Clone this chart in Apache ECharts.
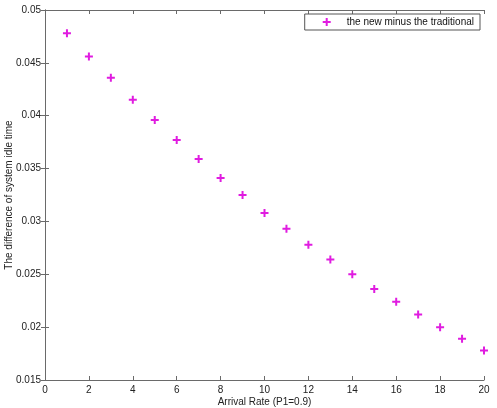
<!DOCTYPE html>
<html><head><meta charset="utf-8">
<script src="https://cdn.jsdelivr.net/npm/echarts@6/dist/echarts.min.js"></script>
<style>html,body{margin:0;padding:0;background:#fff}#c{width:497px;height:408px}</style>
</head><body><div id="c"></div>
<script>
const arrivalRates = [1,2,3,4,5,6,7,8,9,10,11,12,13,14,15,16,17,18,19,20];
const idleDiff = [0.0478,0.0456,0.0436,0.0415,0.0396,0.0377,0.0359,0.0341,0.0325,0.0308,0.0293,0.0278,0.0264,0.0250,0.0236,0.0224,0.0212,0.0200,0.0189,0.0178];
const seriesName = 'the new minus the traditional';
const xTitle = 'Arrival Rate (P1=0.9)';
const yTitle = 'The difference of system idle time';

const plus = 'path://M3,0H5V3H8V5H5V8H3V5H0V3H3Z';
const axisCol = '#6a6a6a';
const font = 'Liberation Sans, Arial, sans-serif';
const chart = echarts.init(document.getElementById('c'));
const common = {
  axisLine:{show:true,lineStyle:{color:axisCol,width:1}},
  axisTick:{show:true,inside:true,length:4,lineStyle:{color:axisCol}},
  splitLine:{show:false}
};
chart.setOption({
  animation:false,
  backgroundColor:'#fff',
  grid:{left:45,right:13,top:10,bottom:28,containLabel:false,outerBoundsMode:'none'},
  legend:{
    top:14,right:17,
    data:[{name:seriesName,icon:plus}],
    itemWidth:8,itemHeight:8,
    borderColor:'#555',borderWidth:1,borderRadius:0,
    padding:[3,6,3,18],
    textStyle:{fontFamily:font,fontSize:10,color:'#111',padding:[0,0,0,11]}
  },
  xAxis:[
    Object.assign({type:'value',min:0,max:20,interval:2,position:'bottom',
      name:xTitle,nameLocation:'middle',nameGap:17,nameMoveOverlap:false,
      nameTextStyle:{fontFamily:font,fontSize:10,color:'#222'},
      axisLabel:{fontFamily:font,fontSize:10,color:'#222',margin:5}},common),
    Object.assign({type:'value',min:0,max:20,interval:2,position:'top',axisLabel:{show:false}},common)
  ],
  yAxis:[
    Object.assign({type:'value',min:0.015,max:0.05,interval:0.005,position:'left',
      name:yTitle,nameLocation:'middle',nameGap:31,nameMoveOverlap:false,
      nameTextStyle:{fontFamily:font,fontSize:10,color:'#222'},
      axisLabel:{fontFamily:font,fontSize:10,color:'#222',margin:4,
        formatter:v=>String(parseFloat(v.toFixed(4)))}},common),
    Object.assign({type:'value',min:0.015,max:0.05,interval:0.005,position:'right',axisLabel:{show:false}},common)
  ],
  series:[{
    name:seriesName,type:'scatter',
    symbol:plus,symbolSize:8,
    itemStyle:{color:'#e01ce0',opacity:1},
    data:arrivalRates.map((x,i)=>[x,idleDiff[i]])
  }]
});
</script></body></html>
